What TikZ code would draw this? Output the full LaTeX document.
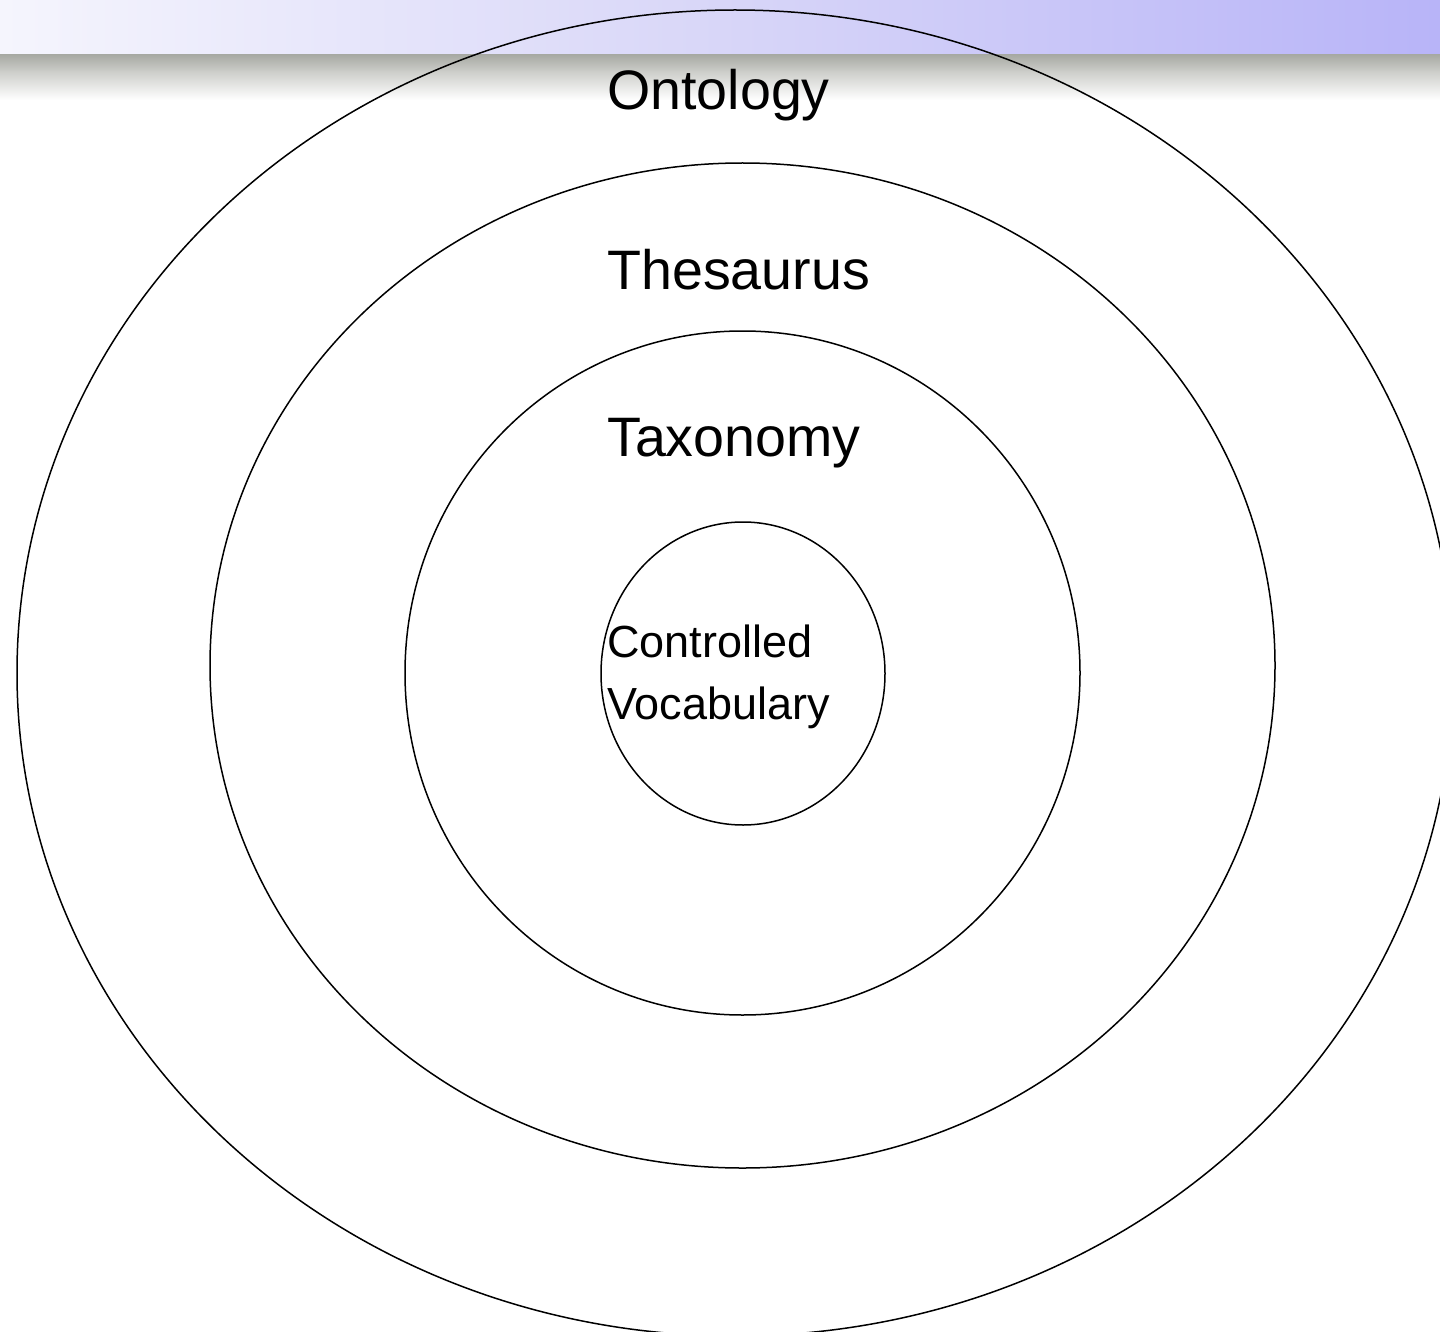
\documentclass[tikz,border=0pt]{standalone}
\usepackage{fontspec}
\setmainfont{Liberation Sans}
\usetikzlibrary{shapes.geometric}
\definecolor{bandleft}{RGB}{245,245,253}
\definecolor{bandmid}{RGB}{216,214,248}
\definecolor{bandright}{RGB}{184,180,248}
\definecolor{shadowgray}{RGB}{168,170,164}
\definecolor{shadowmid}{RGB}{205,206,202}
\tikzset{
  ring/.style={draw=black, line width=1.5pt, ellipse, inner sep=0pt, outer sep=0pt},
  biglabel/.style={anchor=base west, inner sep=0pt, font=\fontsize{55.6}{66}\selectfont},
  smalllabel/.style={anchor=base west, inner sep=0pt, font=\fontsize{45}{53}\selectfont},
}
\begin{document}
\begin{tikzpicture}[x=1pt,y=-1pt]
\useasboundingbox (0,0) rectangle (1440,1332);
\clip (0,0) rectangle (1440,1332);
\fill[white] (0,0) rectangle (1440,1332);
% top band
\shade[left color=bandleft, right color=bandright, middle color=bandmid] (0,0) rectangle (1440,55);
\shade[top color=shadowgray, bottom color=shadowmid] (0,55) rectangle (1440,72);
\shade[top color=shadowmid, bottom color=white] (0,71.5) rectangle (1440,100);
% rings
\node[ring, minimum width=1436pt, minimum height=1326pt] (ontology) at (735,673) {};
\node[ring, minimum width=1065pt, minimum height=1005pt] (thesaurus) at (742.5,665.5) {};
\node[ring, minimum width=675pt, minimum height=684pt] (taxonomy) at (742.5,673) {};
\node[ring, minimum width=284pt, minimum height=303pt] (cv) at (743,673.5) {};
% labels
\node[biglabel] (tOnt) at (607,110) {Ontology};
\node[biglabel] (tThe) at (607,290) {Thesaurus};
\node[biglabel] (tTax) at (607,456) {Taxonomy};
\node[smalllabel] (tCv1) at (607,657) {Controlled};
\node[smalllabel] (tCv2) at (607,719) {Vocabulary};
\end{tikzpicture}
\end{document}
